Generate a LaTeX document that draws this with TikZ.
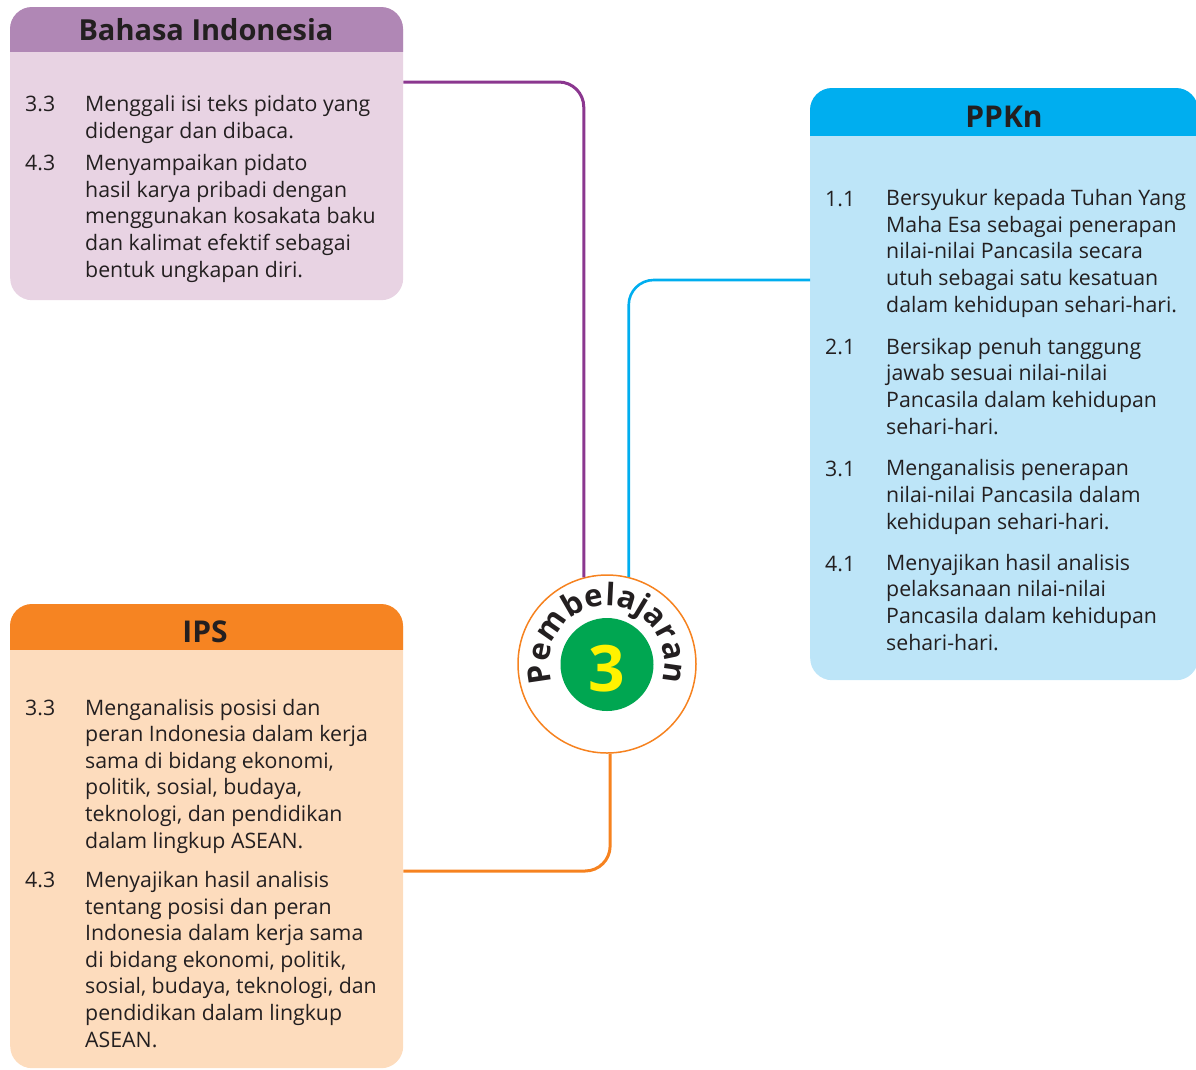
\documentclass[tikz,border=0pt]{standalone}
\usepackage{fontspec}
\setmainfont{Open Sans}
\usetikzlibrary{decorations.text}
\definecolor{ink}{RGB}{35,31,32}
\definecolor{biHead}{RGB}{176,135,181}
\definecolor{biBody}{RGB}{232,211,227}
\definecolor{biLine}{RGB}{139,55,143}
\definecolor{ppHead}{RGB}{0,174,239}
\definecolor{ppBody}{RGB}{189,229,248}
\definecolor{ipHead}{RGB}{246,132,34}
\definecolor{ipBody}{RGB}{253,220,189}
\definecolor{ipLine}{RGB}{246,130,31}
\definecolor{numGreen}{RGB}{0,166,81}
\definecolor{numYellow}{RGB}{255,242,0}
\newcommand\itemfont{\fontsize{21.3}{26.6}\selectfont}
\newcommand\arcfont{\fontsize{31}{31}\bfseries\selectfont}
\begin{document}
\begin{tikzpicture}[x=1pt,y=1pt,
  panel/.style={rectangle, rounded corners=22pt, inner sep=0, anchor=north west},
  item/.style={anchor=base west, inner sep=0, align=left, font=\itemfont, text=ink},
  ttl/.style={anchor=base, inner sep=0, text=ink, font=\bfseries\fontsize{30}{30}\selectfont},
  link/.style={rounded corners=25pt, line width=3pt}]
\useasboundingbox (0,0) rectangle (1196,-1069);

% panels
\node[panel, fill=biBody, minimum width=393, minimum height=293] (bi) at (10,-7) {};
\begin{scope}
  \clip (10,-7) rectangle (403,-51);
  \fill[biHead, rounded corners=22pt] (10,-7) rectangle (403,-300);
\end{scope}
\node[panel, fill=ppBody, minimum width=388, minimum height=592] (pp) at (810,-88) {};
\begin{scope}
  \clip (810,-88) rectangle (1198,-135);
  \fill[ppHead, rounded corners=22pt] (810,-88) rectangle (1198,-680);
\end{scope}
\node[panel, fill=ipBody, minimum width=393, minimum height=464] (ip) at (10,-604) {};
\begin{scope}
  \clip (10,-604) rectangle (403,-649);
  \fill[ipHead, rounded corners=22pt] (10,-604) rectangle (403,-1068);
\end{scope}

% titles
\node[ttl, font=\bfseries\fontsize{29}{29}\selectfont] (biT) at (206,-40) {Bahasa Indonesia};
\node[ttl] (ppT) at (1004,-127) {PPKn};
\node[ttl] (ipT) at (205,-642) {IPS};

% centre
\node[circle, draw=ipLine, line width=1.5pt, fill=white, minimum size=178, inner sep=0] (circ) at (607,-664) {};

% connectors
\draw[link, biLine] ([yshift=-75]bi.north east) -| (circ.105);
\draw[link, ppHead, line width=2.6pt] ([yshift=-192]pp.north west) -| (circ.76);
\draw[link, ipLine] ([yshift=-267]ip.north east) -| (circ.-88);

\node[circle, fill=numGreen, minimum size=93, inner sep=0] (gc) at (607,-664.5) {};
\node[anchor=base, inner sep=0, text=numYellow, font=\bfseries\fontsize{64}{64}\selectfont] (three) at (607,-691) {3};
\coordinate (arcS) at ([shift={(198:58)}]circ.center);
\path[decorate, decoration={text along path, text={|\arcfont|Pembelajaran}, text align=fit to path, text color=ink}]
  (arcS) arc[start angle=198, end angle=-18, radius=58];

% Bahasa Indonesia items (text nodes anchored at the baseline of their last line)
\node[item] (bi1n) at (25,-111) {3.3};
\node[item] (bi1) at (85,-138) {Menggali isi teks pidato yang\\didengar dan dibaca.};
\node[item] (bi2n) at (25,-170) {4.3};
\node[item] (bi2) at (85,-277) {Menyampaikan pidato\\hasil karya pribadi dengan\\menggunakan kosakata baku\\dan kalimat efektif sebagai\\bentuk ungkapan diri.};

% PPKn items
\node[item] (pp1n) at (825,-206) {1.1};
\node[item] (pp1) at (886,-312) {Bersyukur kepada Tuhan Yang\\Maha Esa sebagai penerapan\\nilai-nilai Pancasila secara\\utuh sebagai satu kesatuan\\dalam kehidupan sehari-hari.};
\node[item] (pp2n) at (825,-354) {2.1};
\node[item] (pp2) at (886,-434) {Bersikap penuh tanggung\\jawab sesuai nilai-nilai\\Pancasila dalam kehidupan\\sehari-hari.};
\node[item] (pp3n) at (825,-476) {3.1};
\node[item] (pp3) at (886,-529) {Menganalisis penerapan\\nilai-nilai Pancasila dalam\\kehidupan sehari-hari.};
\node[item] (pp4n) at (825,-571) {4.1};
\node[item] (pp4) at (886,-650) {Menyajikan hasil analisis\\pelaksanaan nilai-nilai\\Pancasila dalam kehidupan\\sehari-hari.};

% IPS items
\node[item] (ip1n) at (25,-715) {3.3};
\node[item] (ip1) at (85,-848) {Menganalisis posisi dan\\peran Indonesia dalam kerja\\sama di bidang ekonomi,\\politik, sosial, budaya,\\teknologi, dan pendidikan\\dalam lingkup ASEAN.};
\node[item] (ip2n) at (25,-887) {4.3};
\node[item] (ip2) at (85,-1047) {Menyajikan hasil analisis\\tentang posisi dan peran\\Indonesia dalam kerja sama\\di bidang ekonomi, politik,\\sosial, budaya, teknologi, dan\\pendidikan dalam lingkup\\ASEAN.};
\end{tikzpicture}
\end{document}
